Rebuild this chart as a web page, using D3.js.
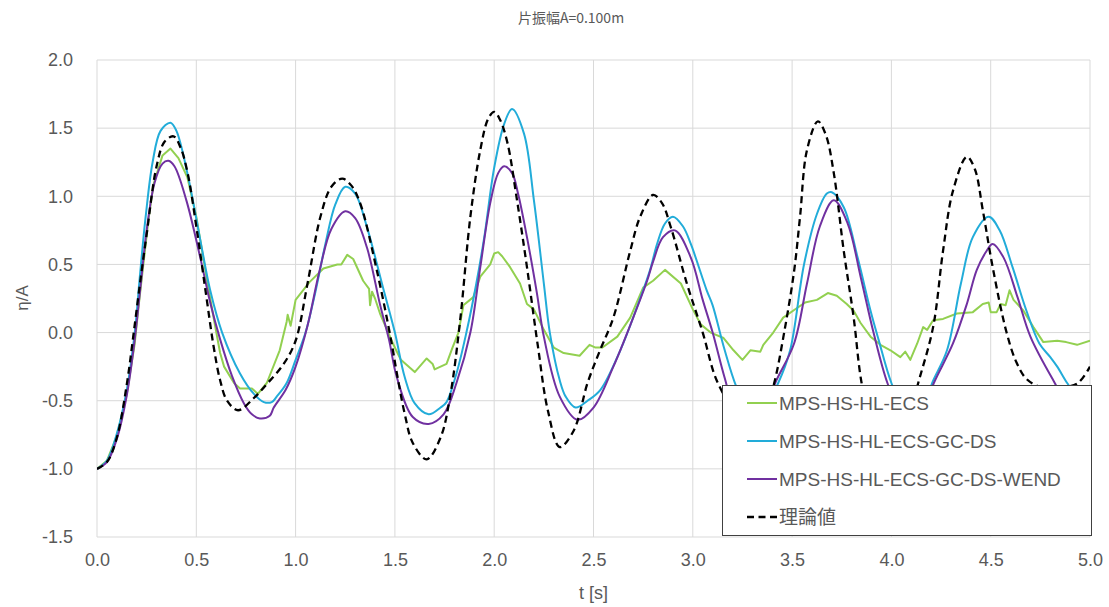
<!DOCTYPE html>
<html><head><meta charset="utf-8">
<script src="https://cdn.jsdelivr.net/npm/d3@7"></script>
<style>body{margin:0;background:#fff;} svg{display:block;}</style>
</head><body>
<svg id="chart" width="1109" height="607"></svg>
<script>
const chartTitle = "片振幅A=0.100m";
const xTicks = [0,0.5,1.0,1.5,2.0,2.5,3.0,3.5,4.0,4.5,5.0];
const yTicks = [-1.5,-1.0,-0.5,0.0,0.5,1.0,1.5,2.0];
const seriesNames = ["MPS-HS-HL-ECS","MPS-HS-HL-ECS-GC-DS","MPS-HS-HL-ECS-GC-DS-WEND","理論値"];

const tECS = [0,0.05,0.10,0.15,0.19,0.21,0.235,0.26,0.285,0.33,0.37,0.41,0.455,0.50,0.55,0.587,0.62,0.64,0.69,0.72,0.78,0.81,0.855,0.92,0.955,0.96,0.975,1.0,1.07,1.14,1.21,1.23,1.26,1.29,1.34,1.35,1.37,1.375,1.385,1.40,1.425,1.49,1.53,1.60,1.66,1.69,1.70,1.76,1.79,1.82,1.845,1.895,1.93,1.98,2.0,2.02,2.04,2.08,2.13,2.165,2.2,2.25,2.30,2.35,2.43,2.48,2.51,2.545,2.62,2.685,2.75,2.80,2.86,2.94,3.0,3.04,3.09,3.155,3.205,3.25,3.29,3.34,3.355,3.405,3.455,3.525,3.565,3.625,3.68,3.725,3.775,3.81,3.845,3.895,3.945,3.995,4.045,4.07,4.095,4.13,4.16,4.18,4.21,4.26,4.33,4.41,4.46,4.49,4.50,4.53,4.55,4.575,4.595,4.615,4.665,4.715,4.765,4.835,4.88,4.935,5.0];
const vECS = [-1.0,-0.94,-0.76,-0.45,-0.08,0.2,0.52,0.84,1.09,1.3,1.35,1.28,1.14,0.85,0.42,0.11,-0.15,-0.25,-0.37,-0.41,-0.41,-0.45,-0.37,-0.13,0.08,0.13,0.05,0.24,0.37,0.47,0.5,0.5,0.57,0.54,0.38,0.36,0.32,0.2,0.3,0.25,0.14,-0.08,-0.2,-0.29,-0.19,-0.23,-0.27,-0.23,-0.11,0.0,0.2,0.26,0.41,0.5,0.58,0.59,0.56,0.48,0.36,0.21,0.17,0.02,-0.11,-0.15,-0.17,-0.09,-0.11,-0.11,-0.03,0.11,0.33,0.38,0.46,0.36,0.17,0.06,0.0,-0.04,-0.13,-0.2,-0.13,-0.14,-0.09,0.0,0.11,0.18,0.22,0.24,0.29,0.27,0.21,0.16,0.07,-0.03,-0.09,-0.13,-0.18,-0.14,-0.2,-0.08,0.04,0.02,0.09,0.1,0.14,0.15,0.21,0.22,0.15,0.15,0.21,0.2,0.31,0.24,0.16,0.04,-0.07,-0.06,-0.07,-0.09,-0.06];

const tGCDS = [0,0.05,0.10,0.15,0.19,0.215,0.245,0.28,0.32,0.37,0.40,0.455,0.52,0.57,0.63,0.72,0.79,0.84,0.88,0.905,0.955,1.0,1.05,1.10,1.15,1.20,1.25,1.30,1.36,1.44,1.50,1.55,1.60,1.67,1.73,1.76,1.81,1.86,1.91,1.95,2.0,2.05,2.09,2.15,2.2,2.25,2.28,2.33,2.36,2.41,2.47,2.535,2.635,2.72,2.785,2.82,2.86,2.90,2.95,2.99,3.07,3.10,3.155,3.22,3.29,3.36,3.43,3.49,3.56,3.625,3.675,3.70,3.76,3.83,3.895,3.935,4.0,4.06,4.12,4.17,4.205,4.28,4.35,4.41,4.49,4.545,4.61,4.68,4.745,4.80,4.835,4.885,4.95,5.0];
const vGCDS = [-1.0,-0.94,-0.74,-0.42,0.0,0.4,0.85,1.25,1.48,1.54,1.48,1.17,0.68,0.31,0.0,-0.3,-0.45,-0.51,-0.51,-0.47,-0.37,-0.2,0.0,0.3,0.65,0.94,1.07,1.02,0.77,0.33,0.0,-0.33,-0.52,-0.6,-0.55,-0.51,-0.3,0.0,0.36,0.7,1.21,1.53,1.64,1.46,0.97,0.36,0.0,-0.35,-0.47,-0.55,-0.5,-0.42,-0.13,0.19,0.46,0.65,0.8,0.85,0.78,0.65,0.31,0.2,-0.1,-0.4,-0.6,-0.55,-0.37,-0.13,0.5,0.87,1.02,1.03,0.92,0.55,0.16,-0.05,-0.37,-0.55,-0.6,-0.52,-0.37,-0.13,0.36,0.7,0.85,0.75,0.48,0.16,-0.08,-0.18,-0.25,-0.37,-0.5,-0.55];

const tWEND = [0,0.05,0.10,0.15,0.19,0.22,0.25,0.29,0.33,0.36,0.39,0.45,0.52,0.57,0.62,0.68,0.74,0.78,0.82,0.87,0.89,0.95,1.0,1.06,1.12,1.18,1.25,1.30,1.36,1.426,1.47,1.51,1.59,1.67,1.745,1.81,1.88,1.93,1.98,2.02,2.05,2.09,2.12,2.165,2.215,2.25,2.33,2.42,2.5,2.60,2.70,2.77,2.80,2.85,2.91,2.99,3.05,3.10,3.16,3.22,3.29,3.36,3.415,3.51,3.575,3.64,3.71,3.78,3.845,3.91,3.98,4.05,4.11,4.16,4.22,4.31,4.38,4.43,4.48,4.51,4.565,4.635,4.70,4.815,4.9,5.0];
const vWEND = [-1.0,-0.95,-0.78,-0.46,-0.05,0.35,0.75,1.1,1.24,1.26,1.22,0.97,0.55,0.22,-0.05,-0.32,-0.52,-0.6,-0.63,-0.61,-0.55,-0.42,-0.25,0.05,0.45,0.76,0.89,0.84,0.62,0.2,-0.05,-0.33,-0.62,-0.67,-0.6,-0.37,0.0,0.48,0.95,1.17,1.22,1.17,1.02,0.7,0.29,-0.03,-0.47,-0.64,-0.55,-0.25,0.11,0.38,0.52,0.7,0.75,0.55,0.24,0.0,-0.33,-0.6,-0.68,-0.58,-0.37,-0.08,0.36,0.78,0.97,0.8,0.41,0.0,-0.37,-0.6,-0.65,-0.55,-0.35,-0.08,0.21,0.46,0.6,0.65,0.55,0.26,-0.03,-0.35,-0.55,-0.6];

const tTheory = [0,0.05,0.10,0.15,0.185,0.22,0.25,0.30,0.34,0.385,0.42,0.455,0.505,0.55,0.587,0.62,0.655,0.71,0.79,0.86,0.94,1.0,1.06,1.125,1.18,1.235,1.28,1.325,1.41,1.48,1.51,1.55,1.59,1.66,1.73,1.78,1.83,1.88,1.93,1.97,2.0,2.03,2.067,2.115,2.165,2.22,2.27,2.33,2.40,2.47,2.53,2.60,2.685,2.735,2.80,2.845,2.89,2.97,3.05,3.12,3.22,3.29,3.36,3.41,3.46,3.51,3.54,3.575,3.63,3.67,3.71,3.76,3.81,3.85,3.92,3.99,4.06,4.135,4.21,4.26,4.31,4.38,4.42,4.46,4.51,4.58,4.63,4.68,4.75,4.82,4.88,4.94,5.0];
const vTheory = [-1.0,-0.95,-0.77,-0.38,0.0,0.4,0.72,1.22,1.40,1.44,1.36,1.18,0.73,0.27,-0.1,-0.35,-0.5,-0.57,-0.48,-0.37,-0.23,-0.06,0.36,0.85,1.07,1.13,1.08,0.95,0.45,-0.05,-0.3,-0.6,-0.81,-0.93,-0.77,-0.45,0.11,0.85,1.34,1.57,1.62,1.56,1.39,0.97,0.48,-0.1,-0.57,-0.84,-0.72,-0.37,-0.14,0.11,0.6,0.85,1.01,0.95,0.77,0.36,0.0,-0.35,-0.6,-0.7,-0.6,-0.37,0.0,0.45,0.85,1.34,1.55,1.45,1.17,0.6,0.11,-0.37,-0.8,-0.9,-0.75,-0.37,0.04,0.6,1.04,1.29,1.2,0.9,0.48,0.0,-0.22,-0.34,-0.40,-0.41,-0.40,-0.37,-0.25];

const colors = ["#92d050","#22acd9","#7030a0","#000000"];

const svg = d3.select("#chart");
const pLeft = 97, pRight = 1090, pTop = 60, pBottom = 537;
const x = d3.scaleLinear().domain([0,5]).range([pLeft,pRight]);
const y = d3.scaleLinear().domain([-1.5,2]).range([pBottom,pTop]);
const textColor = "#595959";
const font = "'Liberation Sans', Arial, sans-serif";

svg.append("text").attr("x",571).attr("y",23).attr("text-anchor","middle")
  .attr("font-family","'Noto Sans CJK JP', sans-serif").attr("font-size",14).attr("fill",textColor).text(chartTitle);

const grid = svg.append("g");
grid.selectAll("line.h").data(yTicks).join("line").attr("class","h")
  .attr("x1",pLeft).attr("x2",pRight).attr("y1",d=>y(d)).attr("y2",d=>y(d))
  .attr("stroke","#d9d9d9").attr("stroke-width",1);
grid.selectAll("line.v").data(xTicks).join("line").attr("class","v")
  .attr("x1",d=>x(d)).attr("x2",d=>x(d)).attr("y1",pTop).attr("y2",pBottom)
  .attr("stroke","#d9d9d9").attr("stroke-width",1);

const xAxis = d3.axisBottom(x).tickValues(xTicks).tickSize(0).tickPadding(16).tickFormat(d=>d.toFixed(1));
const gx = svg.append("g").attr("transform",`translate(0,${pBottom})`).call(xAxis);
gx.select(".domain").remove();
gx.selectAll("text").attr("font-family",font).attr("font-size",18).attr("fill",textColor);

const yAxis = d3.axisLeft(y).tickValues(yTicks).tickSize(0).tickPadding(24).tickFormat(d=>d.toFixed(1));
const gy = svg.append("g").attr("transform",`translate(${pLeft},0)`).call(yAxis);
gy.select(".domain").remove();
gy.selectAll("text").attr("font-family",font).attr("font-size",18).attr("fill",textColor);

svg.append("text").attr("transform","translate(28,298) rotate(-90)").attr("text-anchor","middle")
  .attr("font-family",font).attr("font-size",17).attr("fill",textColor).text("η/A");
svg.append("text").attr("x",(pLeft+pRight)/2).attr("y",599).attr("text-anchor","middle")
  .attr("font-family",font).attr("font-size",18).attr("fill",textColor).text("t [s]");

const series = [
  {t:tECS, v:vECS, curve:d3.curveLinear},
  {t:tGCDS, v:vGCDS, curve:d3.curveCatmullRom.alpha(0.5)},
  {t:tWEND, v:vWEND, curve:d3.curveCatmullRom.alpha(0.5)},
  {t:tTheory, v:vTheory, curve:d3.curveCatmullRom.alpha(0.5), dash:"7,4.5"}
];
svg.append("defs").append("clipPath").attr("id","clip").append("rect")
  .attr("x",pLeft).attr("y",pTop).attr("width",pRight-pLeft).attr("height",pBottom-pTop);
const lg = svg.append("g").attr("clip-path","url(#clip)");
series.forEach((s,i)=>{
  const pts = s.t.map((t,k)=>[t,s.v[k]]);
  const line = d3.line().x(d=>x(d[0])).y(d=>y(d[1])).curve(s.curve);
  lg.append("path").attr("d",line(pts)).attr("fill","none")
    .attr("stroke",colors[i]).attr("stroke-width", i===3?2.3:2)
    .attr("stroke-dasharray", s.dash||null).attr("stroke-linejoin","round");
});

const lgd = svg.append("g");
lgd.append("rect").attr("x",722.5).attr("y",385.5).attr("width",369).attr("height",150)
  .attr("fill","#fff").attr("stroke","#404040").attr("stroke-width",1);
const rows = [403,441,479,517];
seriesNames.forEach((n,i)=>{
  lgd.append("line").attr("x1",747).attr("x2",777).attr("y1",rows[i]).attr("y2",rows[i])
    .attr("stroke",colors[i]).attr("stroke-width",i===3?2.3:2)
    .attr("stroke-dasharray", i===3?"7,4.5":null);
  lgd.append("text").attr("x",779).attr("y",rows[i]+7)
    .attr("font-family", i===3 ? "'Noto Sans CJK JP', sans-serif" : font)
    .attr("font-size",19).attr("fill",textColor).text(n);
});
</script>
</body></html>
